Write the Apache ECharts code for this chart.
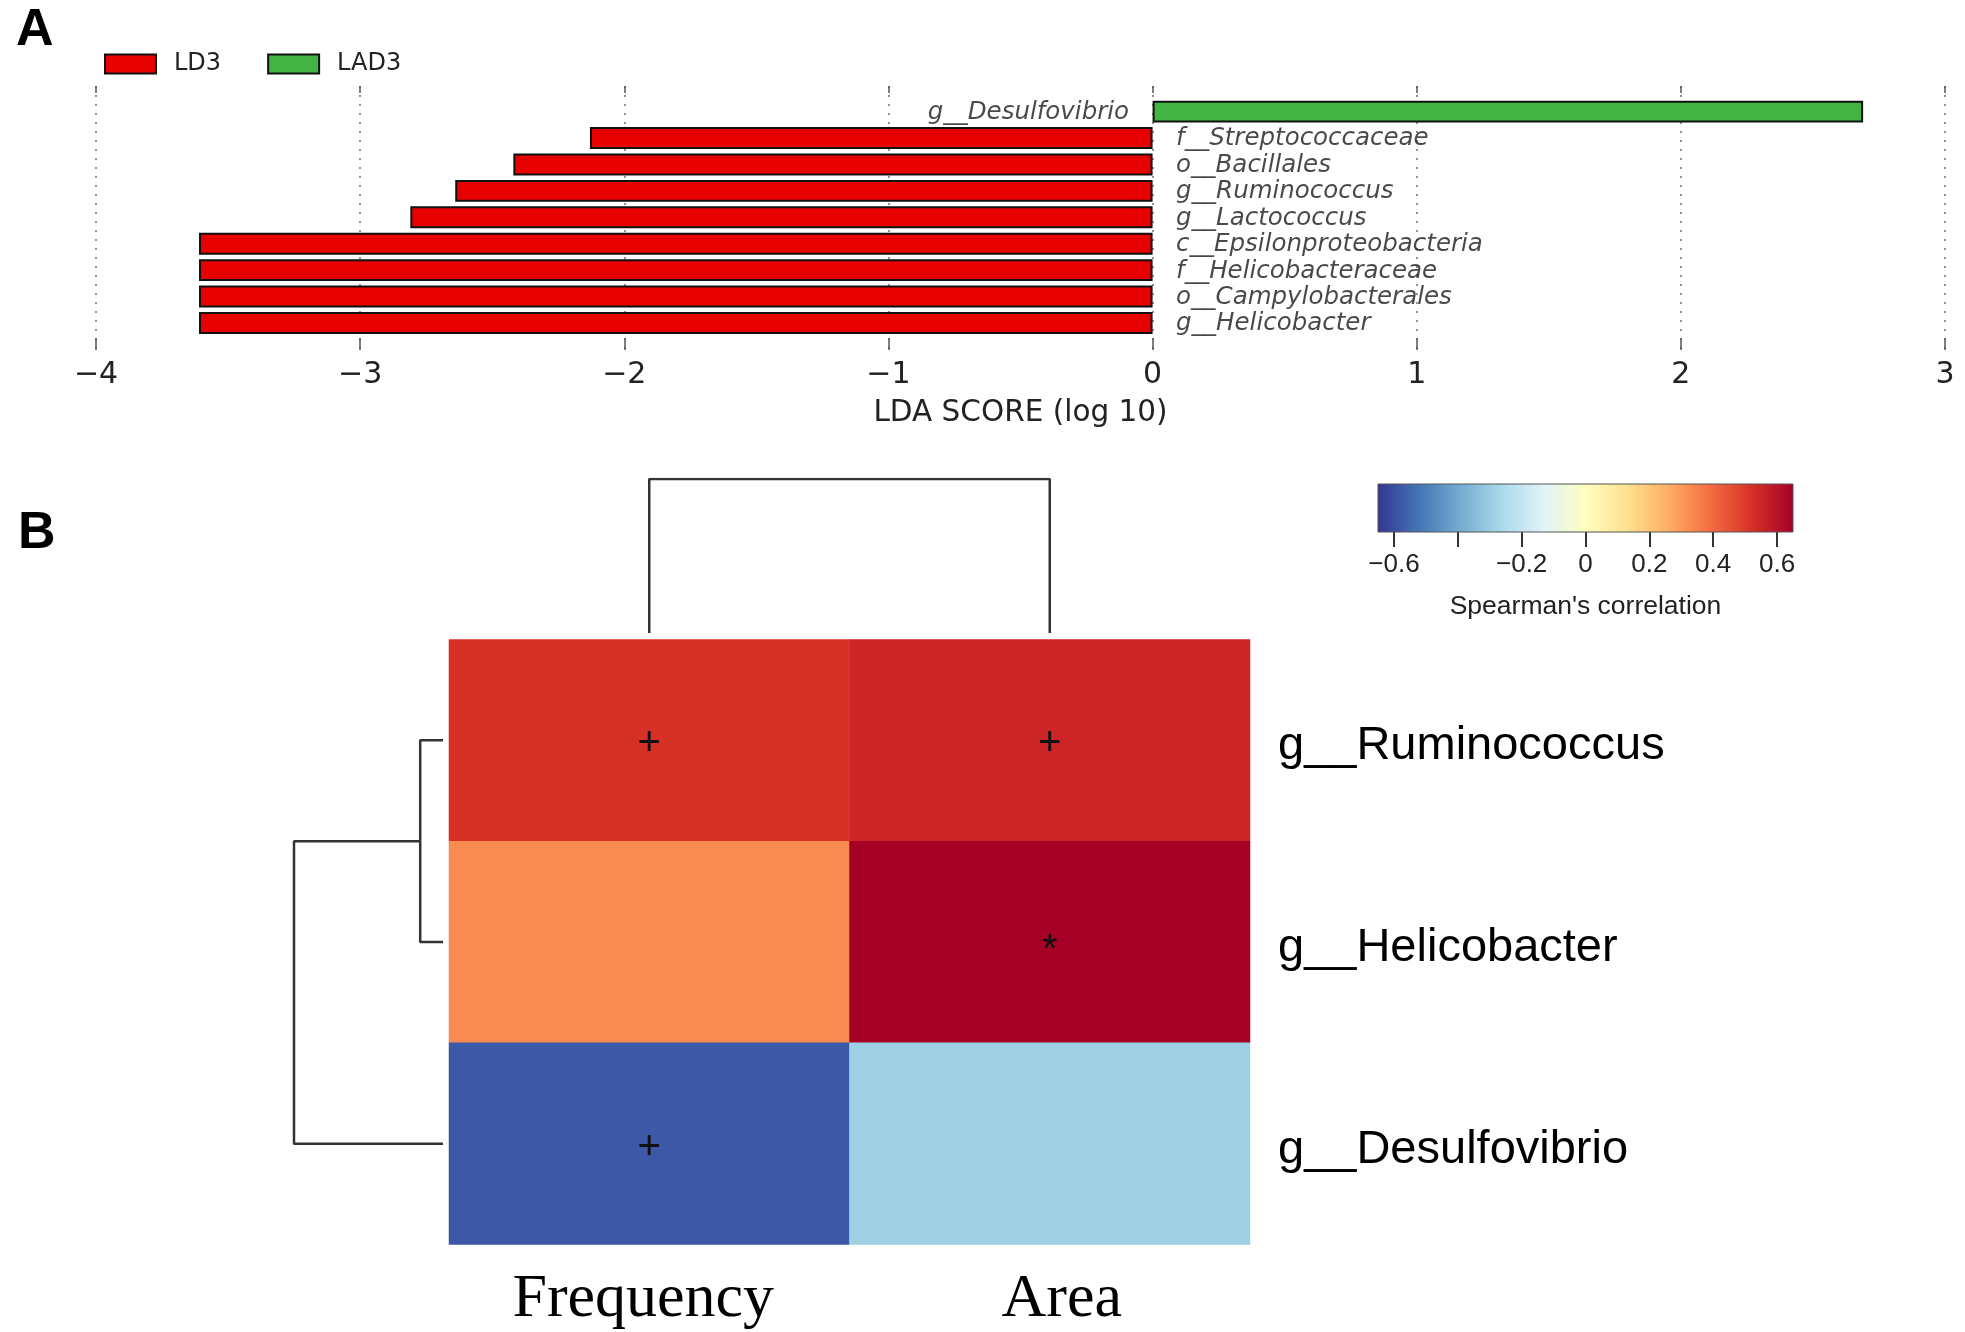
<!DOCTYPE html>
<html><head><meta charset="utf-8">
<script src="https://cdn.jsdelivr.net/npm/echarts@6/dist/echarts.min.js"></script>
<style>html,body{margin:0;padding:0;background:#fff}#c{width:1965px;height:1332px}</style>
</head><body><div id="c"></div>
<script>
// ---- Panel A: LEfSe LDA scores ----
const ldaTaxa = ['g__Desulfovibrio','f__Streptococcaceae','o__Bacillales','g__Ruminococcus','g__Lactococcus','c__Epsilonproteobacteria','f__Helicobacteraceae','o__Campylobacterales','g__Helicobacter'];
const ldaScore = [2.69, -2.13, -2.42, -2.64, -2.81, -3.61, -3.61, -3.61, -3.61];
const ldaGroups = ['LD3', 'LAD3'];
const ldaMin = -4, ldaMax = 3;
// ---- Panel B: Spearman correlation heatmap ----
const heatCols = ['Frequency', 'Area'];
const heatRows = ['g__Ruminococcus', 'g__Helicobacter', 'g__Desulfovibrio'];
const rhoFrequency = [0.52, 0.33, -0.58];
const rhoArea = [0.55, 0.65, -0.29];
const sigFrequency = ['+', '', '+'];
const sigArea = ['+', '*', ''];
const cbarMin = -0.65, cbarMax = 0.65;
const cbarTicks = [-0.6, -0.4, -0.2, 0, 0.2, 0.4, 0.6];
const cbarLabels = [-0.6, -0.2, 0, 0.2, 0.4, 0.6];
const colMergeHeight = [1];            // Frequency + Area
const rowMergeHeights = [0.153, 1];    // Ruminococcus+Helicobacter ; + Desulfovibrio

const rdylbu = ['#313695','#4575b4','#74add1','#abd9e9','#e0f3f8','#ffffbf','#fee090','#fdae61','#f46d43','#d73027','#a50026'];
const minus = v => String(v).replace('-', '\u2212');

const heatData = [];
heatRows.forEach((r, i) => {
  heatData.push({value: [0, i, rhoFrequency[i]], sig: sigFrequency[i]});
  heatData.push({value: [1, i, rhoArea[i]], sig: sigArea[i], label: sigArea[i] === '*' ? {offset: [0, 9]} : undefined});
});

const chart = echarts.init(document.getElementById('c'));
const hide = {show: false};
const option = {
  animation: false,
  backgroundColor: '#fff',
  title: [
    {text: 'A', left: 11, top: 0, textStyle: {fontFamily: 'Liberation Sans', fontWeight: 'bold', fontSize: 52, color: '#000'}},
    {text: 'B', left: 13, top: 503, textStyle: {fontFamily: 'Liberation Sans', fontWeight: 'bold', fontSize: 52, color: '#000'}}
  ],
  legend: {
    data: ldaGroups, left: 104, top: 52, padding: 0, itemWidth: 51, itemHeight: 19, itemGap: 46,
    icon: 'rect',
    textStyle: {fontFamily: 'DejaVu Sans', fontSize: 24, color: '#222', padding: [0, 0, 0, 13]}
  },
  visualMap: {
    show: false, type: 'continuous', min: cbarMin, max: cbarMax, seriesIndex: 6, dimension: 2,
    inRange: {color: rdylbu}
  },
  grid: [
    {left: 96, right: 20, top: 86, height: 264},          // 0 LDA axes
    {left: 96, right: 20, top: 98.4, height: 237.8},      // 1 LDA bars
    {left: 1378, width: 415, top: 484, height: 48},       // 2 colourbar
    {left: 449, width: 801, top: 479, height: 154},       // 3 column dendrogram
    {left: 294, width: 149, top: 639.5, height: 605},     // 4 row dendrogram
    {left: 449, width: 801, top: 639.5, height: 605}      // 5 heatmap
  ],
  xAxis: [
    {gridIndex: 0, type: 'value', min: ldaMin, max: ldaMax, interval: 1, position: 'bottom',
      axisLine: hide,
      axisTick: {show: true, inside: true, length: 12, lineStyle: {color: '#555', width: 1.5}},
      splitLine: {show: true, lineStyle: {color: '#888', width: 1.8, type: [2, 7]}},
      axisLabel: {fontFamily: 'DejaVu Sans', fontSize: 30, color: '#222', margin: 10, formatter: minus},
      name: 'LDA SCORE (log 10)', nameLocation: 'middle', nameGap: 48.5,
      nameTextStyle: {fontFamily: 'DejaVu Sans', fontSize: 29.5, color: '#222'}},
    {gridIndex: 0, type: 'value', min: ldaMin, max: ldaMax, interval: 1, position: 'top',
      axisLine: hide, axisLabel: hide, splitLine: hide,
      axisTick: {show: true, inside: true, length: 7, lineStyle: {color: '#555', width: 1.5}}},
    {gridIndex: 1, type: 'value', min: ldaMin, max: ldaMax, show: false},
    {gridIndex: 2, type: 'value', min: cbarMin, max: cbarMax, axisLine: hide, splitLine: hide,
      axisTick: {show: true, length: 15, customValues: cbarTicks, lineStyle: {color: '#333', width: 2}},
      axisLabel: {customValues: cbarLabels, fontFamily: 'Liberation Sans', fontSize: 26, color: '#222', margin: 20, formatter: minus},
      name: "Spearman's correlation", nameLocation: 'middle', nameGap: 61,
      nameTextStyle: {fontFamily: 'Liberation Sans', fontSize: 26.5, color: '#222'}},
    {gridIndex: 3, type: 'category', data: heatCols, show: false},
    {gridIndex: 4, type: 'value', min: 0, max: 1, inverse: true, show: false},
    {gridIndex: 5, type: 'category', data: heatCols, position: 'bottom',
      axisLine: hide, axisTick: hide, splitLine: hide,
      axisLabel: {interval: 0, hideOverlap: false, fontFamily: 'Liberation Serif', fontSize: 62, color: '#000', margin: 24,
        formatter: v => v === heatCols[0] ? '{f|' + v + '}' : '{a|' + v + '}',
        rich: {
          f: {fontFamily: 'Liberation Serif', fontSize: 62, color: '#000', padding: [0, 12, 0, 0]},
          a: {fontFamily: 'Liberation Serif', fontSize: 62, color: '#000', padding: [0, 0, 0, 24]}
        }}}
  ],
  yAxis: [
    {gridIndex: 0, type: 'value', min: 0, max: 1, show: false},
    {gridIndex: 1, type: 'category', data: ldaTaxa, inverse: true, show: false},
    {gridIndex: 2, type: 'value', min: 0, max: 1, show: false},
    {gridIndex: 3, type: 'value', min: 0, max: 1, show: false},
    {gridIndex: 4, type: 'value', min: -0.5, max: heatRows.length - 0.5, inverse: true, show: false},
    {gridIndex: 5, type: 'category', data: heatRows, inverse: true, position: 'right',
      axisLine: hide, axisTick: hide, splitLine: hide,
      axisLabel: {interval: 0, margin: 28, formatter: v => '{r|' + v + '}',
        rich: {r: {fontFamily: 'Liberation Sans', fontSize: 47, color: '#000', padding: [12, 0, 0, 0]}}}}
  ],
  series: [
    {name: 'LD3', type: 'bar', xAxisIndex: 2, yAxisIndex: 1, barWidth: '83%', barGap: '-100%',
      data: ldaScore.map(v => v < 0 ? v : '-'),
      itemStyle: {color: '#e60000', borderColor: '#111', borderWidth: 2}},
    {name: 'LAD3', type: 'bar', xAxisIndex: 2, yAxisIndex: 1, barWidth: '83%', barGap: '-100%',
      data: ldaScore.map(v => v > 0 ? v : '-'),
      itemStyle: {color: '#41b443', borderColor: '#111', borderWidth: 2}},
    {type: 'scatter', xAxisIndex: 2, yAxisIndex: 1, symbolSize: 1, itemStyle: {color: 'rgba(0,0,0,0)'}, silent: true,
      data: ldaScore.map((v, i) => ({value: [0, ldaTaxa[i]], label: {position: v < 0 ? 'right' : 'left'}})),
      label: {show: true, distance: 23, offset: [0, 1], formatter: p => ldaTaxa[p.dataIndex],
        fontFamily: 'DejaVu Sans', fontStyle: 'italic', fontSize: 24.5, color: '#1a1a1a'}},
    {type: 'custom', xAxisIndex: 3, yAxisIndex: 2, silent: true, clip: false,
      data: [[cbarMin, cbarMax]],
      renderItem: (params, api) => {
        const p0 = api.coord([api.value(0), 1]);
        const p1 = api.coord([api.value(1), 0]);
        return {type: 'rect', shape: {x: p0[0], y: p0[1], width: p1[0] - p0[0], height: p1[1] - p0[1]},
          style: {fill: new echarts.graphic.LinearGradient(0, 0, 1, 0,
            rdylbu.map((c, i) => ({offset: i / (rdylbu.length - 1), color: c}))), stroke: '#555', lineWidth: 1}};
      }},
    {type: 'line', xAxisIndex: 4, yAxisIndex: 3, symbol: 'none', silent: true,
      lineStyle: {color: '#333', width: 2.5},
      data: [[heatCols[0], 0], [heatCols[0], colMergeHeight[0]], [heatCols[1], colMergeHeight[0]], [heatCols[1], 0]]},
    {type: 'line', xAxisIndex: 5, yAxisIndex: 4, symbol: 'none', silent: true,
      lineStyle: {color: '#333', width: 2.5},
      data: [[0, 0], [rowMergeHeights[0], 0], [rowMergeHeights[0], 1], [0, 1]]},
    {type: 'heatmap', xAxisIndex: 6, yAxisIndex: 5, data: heatData,
      itemStyle: {borderWidth: 0},
      label: {show: true, offset: [0, 4], formatter: p => p.data.sig, fontFamily: 'Liberation Sans', fontSize: 40, color: '#111'}},
    {type: 'line', xAxisIndex: 5, yAxisIndex: 4, symbol: 'none', silent: true,
      lineStyle: {color: '#333', width: 2.5},
      data: [[rowMergeHeights[0], 0.5], [rowMergeHeights[1], 0.5], [rowMergeHeights[1], 2], [0, 2]]}
  ]
};
chart.setOption(option);
</script>
</body></html>
